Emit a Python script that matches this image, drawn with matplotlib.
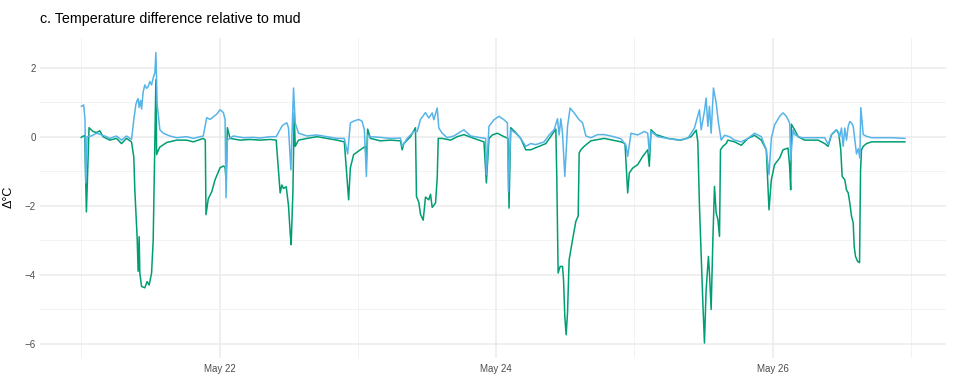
import matplotlib
matplotlib.use("Agg")
import matplotlib.pyplot as plt
import numpy as np
import pandas as pd

# ---- data: hours since 2024-05-21 00:00 and temperature difference (°C) ----
green_hours = [0.0, 0.61, 0.90, 1.36, 2.05, 2.64, 3.22, 3.79, 4.96, 6.12, 6.99, 7.86, 8.73,
               9.13, 9.30, 9.70, 9.88, 10.05, 10.17, 10.47, 11.04, 11.44, 11.79, 12.21, 12.49,
               12.78, 12.96, 13.08, 13.36, 13.65, 14.82, 16.56, 18.30, 19.44, 21.18, 21.53,
               21.65, 22.05, 22.64, 23.22, 24.09, 24.66, 24.96, 25.13, 25.36, 25.83, 27.57,
               29.30, 31.04, 32.78, 33.83, 34.23, 34.52, 34.82, 35.10, 35.57, 35.97, 36.26,
               36.43, 36.73, 36.96, 37.13, 37.70, 39.17, 40.90, 42.64, 44.38, 45.65, 46.40,
               46.70, 47.27, 48.43, 49.30, 49.48, 49.70, 50.17, 51.91, 53.65, 55.39, 55.69,
               55.97, 57.13, 58.00, 58.17, 58.57, 58.87, 59.34, 59.74, 60.31, 60.61, 60.90,
               61.48, 61.77, 61.95, 62.64, 64.09, 65.25, 66.40, 68.14, 69.88, 70.30, 70.75,
               71.34, 72.21, 73.36, 74.05, 74.23, 74.52, 75.39, 76.26, 77.13, 78.00, 79.17,
               80.61, 81.77, 82.35, 82.52, 82.75, 83.10, 83.51, 83.69, 83.91, 84.14, 84.38,
               84.66, 85.25, 85.83, 86.23, 86.40, 86.70, 87.27, 88.43, 90.75, 93.65, 94.35,
               94.82, 95.10, 95.69, 96.56, 97.43, 98.30, 98.57, 98.87, 99.74, 101.77, 104.09,
               105.83, 106.70, 106.99, 107.27, 107.57, 107.86, 108.14, 108.43, 108.83, 109.01,
               109.30, 109.60, 109.88, 110.17, 110.47, 110.75, 110.92, 111.34, 111.91, 112.21,
               113.36, 114.52, 115.69, 116.84, 118.00, 118.87, 119.34, 119.74, 120.31, 121.18,
               121.77, 122.64, 122.92, 123.10, 123.22, 123.79, 124.38, 125.53, 126.70, 127.86,
               129.01, 129.60, 130.17, 131.04, 131.44, 131.79, 132.03, 132.49, 132.78, 133.08,
               133.36, 133.65, 133.95, 134.12, 134.35, 134.70, 135.05, 135.22, 135.39, 135.69,
               136.26, 137.13, 138.87, 140.61, 142.92]
green_vals = [-0.02, 0.04, -2.18, 0.26, 0.15, 0.12, 0.17, 0.0, -0.1, -0.05, -0.2, -0.05, -0.15,
              -0.6, -1.54, -2.9, -3.9, -2.9, -3.95, -4.34, -4.38, -4.2, -4.3, -3.95, -3.0,
              -0.1, 1.65, -0.52, -0.4, -0.3, -0.17, -0.1, -0.1, -0.15, -0.05, -0.1,
              -2.26, -1.8, -1.6, -1.25, -0.9, -0.85, -0.88, -1.25, 0.26, -0.05, -0.1,
              -0.08, -0.1, -0.08, -0.1, -1.0, -1.63, -1.4, -1.5, -1.45, -2.0, -2.8,
              -3.13, -1.6, 0.69, -0.28, -0.1, -0.05, 0.0, -0.05, -0.1, -0.15, -1.83,
              -0.9, -0.52, -0.38, -0.28, -0.72, 0.22, -0.05, -0.12, -0.1, -0.12, -0.38,
              -0.2, 0.0, 0.26, -1.73, -1.9, -2.25, -2.42, -1.75, -1.83, -1.67, -2.05,
              -1.92, -1.2, -0.05, -0.05, -0.1, 0.0, 0.06, -0.05, -0.15, -1.34, -0.05,
              0.05, 0.1, 0.0, -0.05, -2.07, 0.26, 0.12, -0.05, -0.38, -0.38, -0.3,
              -0.2, 0.08, 0.22, -1.2, -3.95, -3.76, -3.76, -4.15, -5.21, -5.74, -5.1,
              -3.57, -2.99, -2.45, -2.3, -0.47, -0.38, -0.28, -0.12, -0.05, -0.15, -0.2,
              -1.63, -1.05, -0.91, -0.81, -0.57, -0.38, -0.86, 0.2, 0.06, -0.05, -0.1,
              0.0, 0.19, -0.15, -2.0, -3.47, -4.81, -5.98, -4.43, -3.47, -3.95,
              -5.01, -2.99, -1.44, -2.21, -2.4, -2.89, -0.38, -0.28, -0.2, -0.1,
              -0.15, -0.25, -0.05, 0.04, -0.1, -0.38, -2.12, -1.25, -0.81, -0.62,
              -0.38, -0.33, -0.86, -1.54, 0.36, 0.2, 0.0, -0.1, -0.1, -0.1,
              -0.2, -0.28, 0.05, 0.2, 0.1, -0.38, -1.15, -1.25, -1.54, -1.63,
              -1.92, -2.3, -2.5, -3.18, -3.47, -3.61, -3.65, -1.0, -0.38, -0.28,
              -0.2, -0.15, -0.15, -0.15, -0.15]

blue_hours = [0.03, 0.43, 0.66, 0.78, 1.01, 1.77, 2.64, 3.22, 4.38, 4.96, 6.12, 6.99, 7.86, 8.73,
              9.13, 9.48, 9.70, 9.88, 10.05, 10.30, 10.47, 10.75, 11.04, 11.34, 11.62, 11.91,
              12.21, 12.49, 12.78, 12.96, 13.18, 13.65, 14.23, 15.39, 16.56, 18.30, 19.44,
              21.18, 21.77, 22.35, 23.51, 24.09, 24.66, 24.96, 25.13, 25.36, 26.40, 28.14,
              29.88, 31.04, 32.78, 33.83, 34.82, 35.10, 35.69, 35.97, 36.38, 36.84, 37.13,
              37.70, 39.17, 40.90, 42.64, 44.38, 45.65, 46.23, 46.70, 47.27, 48.14, 48.73,
              49.13, 49.48, 49.70, 50.17, 51.91, 53.65, 55.39, 55.69, 56.56, 57.70, 58.30,
              58.87, 59.74, 60.31, 60.90, 61.18, 61.77, 62.05, 62.64, 63.51, 64.66, 66.40,
              67.57, 69.30, 70.17, 70.30, 70.75, 71.62, 72.49, 73.36, 73.95, 74.12, 74.52,
              75.39, 76.26, 77.13, 78.00, 78.87, 80.32, 81.19, 82.05, 82.64, 82.92, 83.22,
              83.51, 83.91, 84.38, 84.83, 85.53, 86.40, 86.99, 87.57, 88.43, 89.60, 90.75,
              91.91, 93.65, 94.52, 94.82, 95.39, 96.56, 97.71, 98.30, 98.57, 98.87, 100.03,
              101.77, 103.51, 105.25, 106.40, 107.27, 107.57, 108.14, 108.43, 108.73,
              109.01, 109.30, 109.70, 110.17, 110.57, 111.04, 111.62, 112.49, 113.36,
              114.52, 115.69, 116.84, 118.00, 118.87, 119.34, 119.74, 120.31, 121.18,
              121.77, 122.35, 122.92, 123.10, 123.51, 123.79, 124.96, 126.70, 127.86,
              129.01, 129.60, 130.17, 131.04, 131.62, 131.91, 132.21, 132.49, 132.78,
              133.08, 133.36, 133.65, 133.95, 134.23, 134.52, 134.82, 135.10, 135.27,
              135.69, 136.26, 137.13, 138.87, 140.61, 142.92]
blue_vals = [0.88, 0.92, 0.5, -1.34, 0.0, 0.02, 0.1, 0.07, 0.0, -0.05, 0.02, -0.1, 0.02, -0.08,
             0.5, 0.93, 1.05, 1.1, 0.85, 1.05, 0.8, 1.3, 1.5, 1.4, 1.45, 1.6,
             1.5, 1.7, 1.85, 2.44, 0.93, 0.2, 0.1, 0.02, -0.03, 0.0, -0.05,
             0.02, 0.55, 0.5, 0.65, 0.78, 0.7, 0.5, -1.77, -0.1, 0.02, -0.03,
             -0.02, -0.04, 0.0, 0.0, 0.3, 0.35, 0.4, 0.25, -0.96, 1.41, 0.4,
             0.1, 0.02, 0.05, 0.0, -0.05, -0.05, -0.5, 0.4, 0.45, 0.5, 0.45,
             0.2, -1.15, 0.05, 0.0, -0.02, -0.05, -0.04, -0.28, -0.05, 0.15, 0.15,
             0.5, 0.7, 0.54, 0.69, 0.49, 0.83, 0.25, 0.1, -0.03, 0.02, 0.2,
             0.02, -0.03, -0.05, -1.1, 0.3, 0.49, 0.59, 0.49, 0.4, -1.6, 0.2,
             0.1, -0.05, -0.28, -0.2, -0.23, -0.15, 0.05, 0.2, 0.52, 0.05, 0.52,
             0.1, -1.15, 0.3, 0.83, 0.69, 0.49, 0.4, 0.02, -0.03, 0.06, 0.06,
             0.02, -0.06, -0.25, -0.57, 0.1, 0.05, 0.15, 0.1, -0.47, 0.15, 0.0,
             -0.05, -0.1, -0.05, 0.25, 0.78, 0.2, 0.74, 1.12, 0.3,
             0.88, 0.1, 1.41, 0.98, 0.4, -0.1, 0.04, 0.0, -0.1,
             -0.15, -0.05, 0.1, 0.0, -0.38, -1.1, -0.05, 0.34, 0.59,
             0.69, 0.59, 0.4, -0.67, 0.2, 0.06, -0.03, -0.03, -0.03,
             -0.03, -0.23, 0.06, 0.2, 0.0, 0.25, -0.28, 0.25, -0.1,
             0.3, 0.44, 0.4, 0.3, -0.1, -0.5, -0.35, -0.62, 0.84,
             0.06, 0.01, -0.03, -0.03, -0.03, -0.05]

y_ticks = [-6, -4, -2, 0, 2]
x_tick_labels = ["May 22", "May 24", "May 26"]

green_col = "#009E73"
blue_col = "#56B4E9"

base = pd.Timestamp("2024-05-21 00:00")
gx = base + pd.to_timedelta(green_hours, unit="h")
bx = base + pd.to_timedelta(blue_hours, unit="h")

plt.rcParams['font.family'] = ['Liberation Sans', 'DejaVu Sans']

fig = plt.figure(figsize=(9.72, 3.78), dpi=100)
ax = fig.add_axes([40/972, 1 - 357.5/378, (946-40)/972, (357.5-38)/378])

ax.plot(gx, green_vals, color=green_col, lw=1.1, zorder=3)
ax.plot(bx, blue_vals, color=blue_col, lw=1.1, zorder=4)

ax.set_xlim(base - pd.Timedelta(hours=7.15), base + pd.Timedelta(hours=150.05))
ax.set_ylim(-6.40, 2.86)

ax.set_yticks(y_ticks)
ax.set_yticks([-5, -3, -1, 1], minor=True)
major_days = pd.to_datetime(["2024-05-22", "2024-05-24", "2024-05-26"])
minor_days = pd.to_datetime(["2024-05-21", "2024-05-23", "2024-05-25", "2024-05-27"])
ax.set_xticks(major_days)
ax.set_xticklabels(x_tick_labels)
ax.set_xticks(minor_days, minor=True)

ax.grid(which="major", color="#EBEBEB", lw=1.1)
ax.grid(which="minor", color="#F2F2F2", lw=0.7)
ax.set_axisbelow(True)
for s in ax.spines.values():
    s.set_visible(False)
ax.tick_params(which="both", length=0)
ax.tick_params(axis="y", pad=3, labelsize=7, labelcolor="#4D4D4D")
ax.tick_params(axis="x", pad=5, labelsize=7, labelcolor="#4D4D4D")

fig.text(9/972, 1 - 197/378, "Δ°C", fontsize=9, rotation=90, ha="center", va="center")
fig.text(40/972, 1 - 19/378, "c. Temperature difference relative to mud",
         fontsize=10.3, ha="left", va="center")

fig.savefig("out.png", dpi=100, facecolor="white")
